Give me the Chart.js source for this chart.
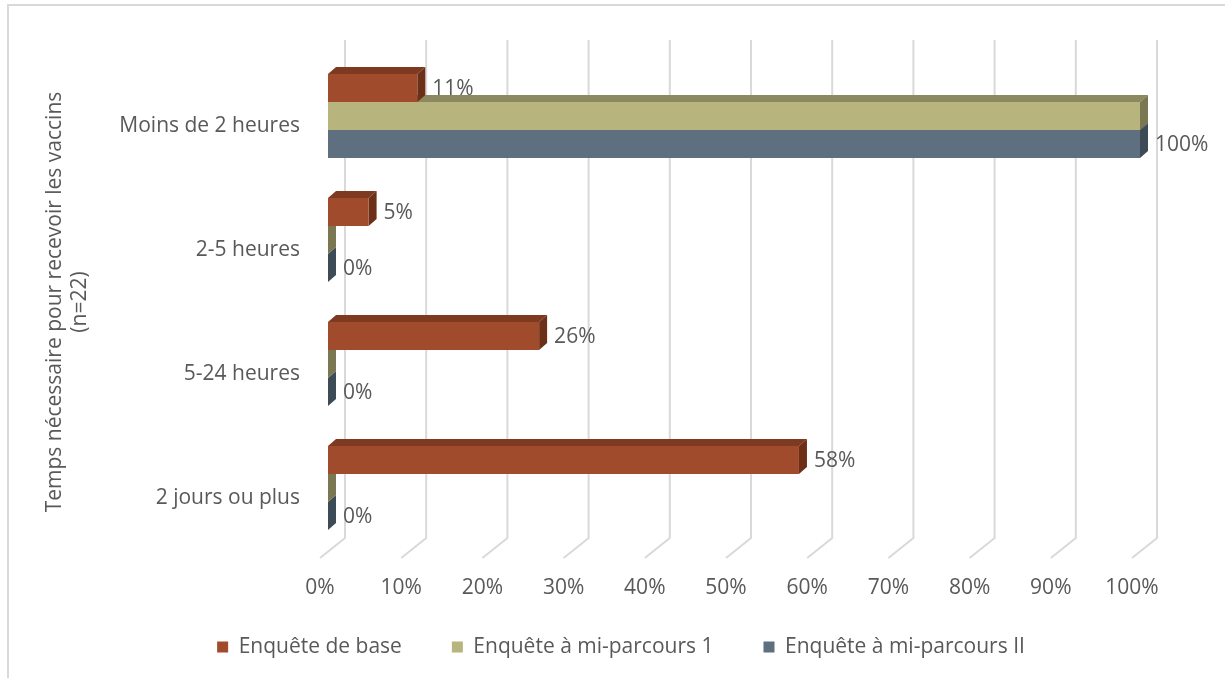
<!DOCTYPE html>
<html>
<head>
<meta charset="utf-8">
<script src="https://cdn.jsdelivr.net/npm/chart.js@4.4.1/dist/chart.umd.min.js"></script>
<style>
    html, body { margin: 0; padding: 0; background: #fff; }
    #wrap { width: 1225px; height: 678px; }
</style>
</head>
<body>
<div id="wrap"><canvas id="chart" width="1225" height="678"></canvas></div>
<script>
const categories = ['Moins de 2 heures', '2-5 heures', '5-24 heures', '2 jours ou plus'];
const seriesNames = ['Enquête de base', 'Enquête à mi-parcours 1', 'Enquête à mi-parcours II'];
const baseSurvey = [11, 5, 26, 58];
const midSurvey1 = [100, 0, 0, 0];
const midSurvey2 = [100, 0, 0, 0];
const xTickValues = [0, 10, 20, 30, 40, 50, 60, 70, 80, 90, 100];
const showValueLabels = [true, false, true];

const frontColors = ['#A04B2C', '#B8B47D', '#5E7080'];
const topColors = ['#7E3A21', '#8C885F', '#4A5967'];
const sideColors = ['#6C2F18', '#7B7753', '#3D4B57'];

const textColor = '#595959';
const fontFamily = '"Open Sans", Lato, sans-serif';
const fontSize = 21;
const DX = 8, DY = 7;

// light frame around the chart, runs off the right and bottom edges
const framePlugin = {
    id: 'frame',
    beforeDraw(chart) {
        const ctx = chart.ctx;
        ctx.save();
        ctx.strokeStyle = '#d9d9d9';
        ctx.lineWidth = 2;
        ctx.strokeRect(8, 5, 1400, 900);
        ctx.restore();
    }
};

// legend sits a bit higher and centred under the plot rather than the canvas
const legendShiftPlugin = {
    id: 'legendShift',
    afterLayout(chart) {
        const lg = chart.legend;
        lg.top -= 10.5;
        lg.bottom -= 10.5;
        lg.left += 36;
        lg.right += 36;
    }
};

// back-wall gridlines with a slanted floor segment
const wallGridPlugin = {
    id: 'wallGrid',
    beforeDatasetsDraw(chart) {
        const {ctx, chartArea} = chart;
        const xScale = chart.scales.x;
        ctx.save();
        ctx.strokeStyle = '#d9d9d9';
        ctx.lineWidth = 2;
        xTickValues.forEach(v => {
            const px = xScale.getPixelForValue(v);
            ctx.beginPath();
            ctx.moveTo(px + 17, chartArea.top - 14);
            ctx.lineTo(px + 17, chartArea.bottom - 12);
            ctx.lineTo(px - 8, chartArea.bottom + 8);
            ctx.stroke();
        });
        ctx.restore();
    }
};

// top and side faces of the bars, drawn before the front faces
const bar3dPlugin = {
    id: 'bar3d',
    beforeDatasetsDraw(chart) {
        const ctx = chart.ctx;
        ctx.save();
        for (let d = chart.data.datasets.length - 1; d >= 0; d--) {
            const meta = chart.getDatasetMeta(d);
            meta.data.forEach(bar => {
                const {x, y, base, height} = bar.getProps(['x', 'y', 'base', 'height'], true);
                const top = y - height / 2, bottom = y + height / 2;
                ctx.fillStyle = topColors[d];
                ctx.beginPath();
                ctx.moveTo(base, top);
                ctx.lineTo(base + DX, top - DY);
                ctx.lineTo(x + DX, top - DY);
                ctx.lineTo(x, top);
                ctx.closePath();
                ctx.fill();
                ctx.fillStyle = sideColors[d];
                ctx.beginPath();
                ctx.moveTo(x, top);
                ctx.lineTo(x + DX, top - DY);
                ctx.lineTo(x + DX, bottom - DY);
                ctx.lineTo(x, bottom);
                ctx.closePath();
                ctx.fill();
            });
        }
        ctx.restore();
    }
};

const valueLabelPlugin = {
    id: 'valueLabels',
    afterDatasetsDraw(chart) {
        const ctx = chart.ctx;
        ctx.save();
        ctx.font = fontSize + 'px ' + fontFamily;
        ctx.fillStyle = textColor;
        ctx.textAlign = 'left';
        ctx.textBaseline = 'middle';
        chart.data.datasets.forEach((ds, d) => {
            if (!showValueLabels[d]) return;
            chart.getDatasetMeta(d).data.forEach((bar, i) => {
                const {x, y} = bar.getProps(['x', 'y'], true);
                ctx.fillText(ds.data[i] + '%', x + DX + 7, y + 1);
            });
        });
        ctx.restore();
    }
};

const seriesData = [baseSurvey, midSurvey1, midSurvey2];

new Chart(document.getElementById('chart'), {
    type: 'bar',
    data: {
        labels: categories,
        datasets: seriesNames.map((name, i) => ({
            label: name,
            data: seriesData[i],
            backgroundColor: frontColors[i],
            borderWidth: 0,
            barPercentage: 1,
            categoryPercentage: 0.677
        }))
    },
    options: {
        indexAxis: 'y',
        responsive: false,
        animation: false,
        devicePixelRatio: 1,
        layout: {padding: {left: 30, right: 85, top: 54, bottom: 0}},
        scales: {
            x: {
                min: 0,
                max: 100,
                afterFit(scale) { scale.height = 47; },
                afterBuildTicks(scale) { scale.ticks = xTickValues.map(v => ({value: v})); },
                grid: {display: false, drawTicks: false},
                border: {display: false},
                ticks: {
                    callback: v => v + '%',
                    color: textColor,
                    font: {family: fontFamily, size: fontSize},
                    padding: 25.5,
                    labelOffset: -8,
                    maxRotation: 0
                }
            },
            y: {
                afterFit(scale) { scale.width = 298; },
                grid: {display: false, drawTicks: false},
                border: {display: false},
                ticks: {
                    color: textColor,
                    font: {family: fontFamily, size: fontSize},
                    padding: 28,
                    labelOffset: 10
                },
                title: {
                    display: true,
                    text: ['Temps nécessaire pour recevoir les vaccins', '(n=22)'],
                    color: textColor,
                    font: {family: fontFamily, size: fontSize, lineHeight: 1.2},
                    padding: {top: 12, bottom: 0}
                }
            }
        },
        plugins: {
            legend: {
                position: 'bottom',
                labels: {
                    color: textColor,
                    font: {family: fontFamily, size: fontSize},
                    boxWidth: 11,
                    boxHeight: 11,
                    padding: 50
                }
            },
            tooltip: {enabled: false}
        }
    },
    plugins: [framePlugin, legendShiftPlugin, wallGridPlugin, bar3dPlugin, valueLabelPlugin]
});
</script>
</body>
</html>
